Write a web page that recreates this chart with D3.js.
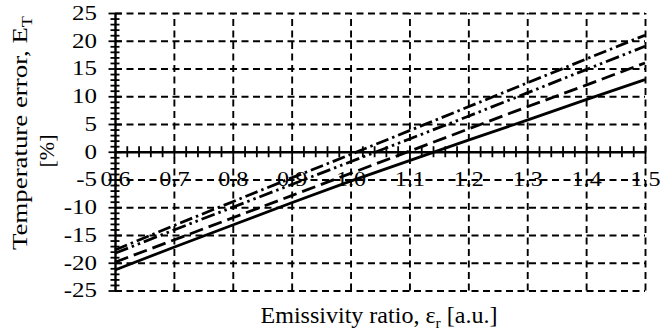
<!DOCTYPE html>
<html><head><meta charset="utf-8">
<script src="https://cdn.jsdelivr.net/npm/d3@7"></script>
<style>body{margin:0;background:#fff}svg{display:block}text{font-family:"Liberation Serif","Times New Roman",serif;fill:#000}</style>
</head><body><svg id="c" width="660" height="333"></svg>
<script>
const xValues = [0.6, 0.7, 0.8, 0.9, 1.0, 1.1, 1.2, 1.3, 1.4, 1.5];
const seriesDashDot = [-17.7, -13.3, -9.0, -4.7, -0.5, 3.8, 8.1, 12.4, 16.7, 21.0];
const seriesDashDotDot = [-18.3, -14.1, -10.0, -5.9, -1.8, 2.3, 6.4, 10.6, 14.8, 19.0];
const seriesDashed = [-19.9, -15.9, -11.9, -7.9, -3.9, 0.1, 4.1, 8.1, 12.0, 16.0];
const seriesSolid = [-21.3, -17.2, -13.2, -9.2, -5.3, -1.6, 2.1, 5.7, 9.4, 13.0];
const xTicks = [0.6, 0.7, 0.8, 0.9, 1.0, 1.1, 1.2, 1.3, 1.4, 1.5];
const xTickLabels = ["0.6","0.7","0.8","0.9","1.0","1.1","1.2","1.3","1.4","1.5"];
const yTicks = [-25, -20, -15, -10, -5, 0, 5, 10, 15, 20, 25];
const yTickLabels = ["-25","-20","-15","-10","-5","0","5","10","15","20","25"];

const svg = d3.select("#c");
const x = d3.scaleLinear().domain([0.6, 1.5]).range([115, 645]);
const y = d3.scaleLinear().domain([-25, 25]).range([290.5, 13]);

function widen(sel, f) {
  sel.each(function () {
    const w = this.getComputedTextLength();
    this.setAttribute("textLength", (w * f).toFixed(1));
    this.setAttribute("lengthAdjust", "spacingAndGlyphs");
  });
}

// grid
const grid = svg.append("g");
grid.append("g").attr("transform", `translate(0,${y(-25)})`)
  .call(d3.axisBottom(x).tickValues(xTicks.slice(1)).tickSize(-(y(-25) - y(25))).tickFormat(""))
  .call(g => g.select(".domain").remove())
  .selectAll("line").attr("stroke", "#000").attr("stroke-width", 1.9).attr("stroke-dasharray", "7,4.5");
grid.append("g").attr("transform", `translate(${x(0.6)},0)`)
  .call(d3.axisLeft(y).tickValues(yTicks.filter(v => v !== 0)).tickSize(-(x(1.5) - x(0.6))).tickFormat(""))
  .call(g => g.select(".domain").remove())
  .selectAll("line").attr("stroke", "#000").attr("stroke-width", 1.9).attr("stroke-dasharray", "7,4.5");

// lines
const line = d3.line().x((d, i) => x(xValues[i])).y(d => y(d));
const series = [
  {v: seriesDashDot, dash: "13,4,2.5,4"},
  {v: seriesDashDotDot, dash: "14,4,2.5,4,2.5,4"},
  {v: seriesDashed, dash: "14,6"},
  {v: seriesSolid, dash: null}
];
series.forEach(s => {
  svg.append("path").datum(s.v).attr("d", line).attr("fill", "none")
    .attr("stroke", "#000").attr("stroke-width", 2.8)
    .attr("stroke-dasharray", s.dash);
});

// y axis
const minorY = d3.range(-25, 26, 1);
const yAx = svg.append("g").attr("transform", `translate(${x(0.6)},0)`);
yAx.call(d3.axisLeft(y).tickValues(minorY).tickSize(0).tickFormat(""))
  .call(g => g.select(".domain").attr("stroke-width", 2.4))
  .selectAll(".tick line").attr("x1", d => d % 5 === 0 ? -6.5 : -4.5).attr("x2", d => d % 5 === 0 ? 6.5 : 4.5)
  .attr("stroke", "#000").attr("stroke-width", 1.8);
const yLab = svg.append("g").attr("transform", `translate(${x(0.6)},0)`);
yLab.call(d3.axisLeft(y).tickValues(yTicks).tickSize(0).tickPadding(18).tickFormat((d, i) => yTickLabels[i]))
  .call(g => g.select(".domain").remove())
  .selectAll("text").attr("font-size", 20).style("font-family", "Liberation Serif")
  .call(widen, 1.25);

// x axis at zero
const minorX = d3.range(0, 46).map(i => +(0.6 + i * 0.02).toFixed(2));
const xAx = svg.append("g").attr("transform", `translate(0,${y(0)})`);
xAx.call(d3.axisBottom(x).tickValues(minorX).tickSize(0).tickFormat(""))
  .call(g => g.select(".domain").attr("stroke-width", 2.4))
  .selectAll(".tick line").attr("y1", -5.5).attr("y2", 5.5).attr("stroke", "#000").attr("stroke-width", 1.8);
const xLab = svg.append("g").attr("transform", `translate(0,${y(0)})`);
xLab.call(d3.axisBottom(x).tickValues(xTicks).tickSize(0).tickPadding(19).tickFormat((d, i) => xTickLabels[i]))
  .call(g => g.select(".domain").remove())
  .selectAll("text").attr("font-size", 21).style("font-family", "Liberation Serif")
  .call(widen, 1.15);

// titles
svg.append("text").attr("x", 379).attr("y", 323).attr("text-anchor", "middle").attr("font-size", 23)
  .attr("textLength", 237).attr("lengthAdjust", "spacingAndGlyphs")
  .html('Emissivity ratio, ε<tspan font-size="15" dy="5">r</tspan><tspan dy="-5"> [a.u.]</tspan>');
svg.append("text").attr("transform", "translate(27,133) rotate(-90)").attr("text-anchor", "middle").attr("font-size", 22)
  .attr("textLength", 234).attr("lengthAdjust", "spacingAndGlyphs")
  .html('Temperature error, E<tspan font-size="15" dy="5">T</tspan>');
svg.append("text").attr("transform", "translate(54,151) rotate(-90)").attr("text-anchor", "middle").attr("font-size", 22)
  .text("[%]");
</script></body></html>
